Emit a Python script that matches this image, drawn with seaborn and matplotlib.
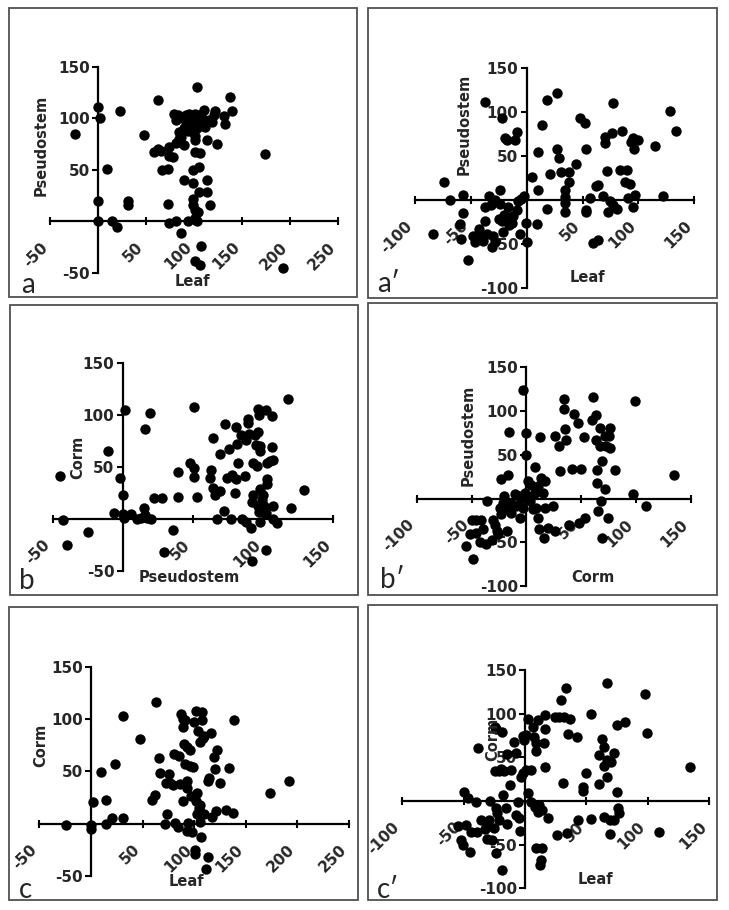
import matplotlib
matplotlib.use('Agg')
import matplotlib.pyplot as plt
from matplotlib.patches import Rectangle
from matplotlib.transforms import ScaledTranslation
import seaborn as sns

# --- panel a : Leaf vs Pseudostem ---
a_leaf = [0, 2.4, -23.6, 23, 9.4, 0, 0, 15, 20, 31,
          31, 48, 62.5, 58, 62.5, 66, 67, 73, 74, 74,
          78, 72.6, 73.6, 80.6, 86.5, 79, 81, 81, 84.7, 84.7,
          89, 89, 83, 87.5, 91, 92.7, 92.7, 95, 97, 100,
          98.6, 98.6, 94, 98.6, 98.6, 100.7, 100.7, 101.4, 103, 101.4,
          105, 106.6, 101.4, 103, 101.4, 104, 105, 107.6, 101.4, 106.6,
          110, 111, 108, 113.5, 113.5, 113.5, 116, 118.8, 120.5, 122,
          124, 131, 132.6, 137, 139.6, 173.6, 192.7, 91, 94, 97,
          94, 89, 105, 106, 103, 115, 86]
a_pseudostem = [111, 100, 85, 107, 51, 20, 0, 0, -6, 20,
                16, 84, 118, 67, 70, 68, 50, 51, 72, 63,
                62, 17, -2, 0, -11, 104, 98, 76, 80, 87,
                74, 40, 103, 100, 103, 96, 90, 104, 98, 95,
                37, 50, 0, 22, 16, 104, 83, 79, 130, 67,
                53, 66, 11, 0, 3, 9, 28, -24, -39, -43,
                108, 91, 100, 79, 40, 28, 16, 96, 103, 107,
                75, 102, 94, 121, 107, 65, -45, 98, 93, 88,
                88, 90, 103, 95, 90, 98, 82]

# --- panel a' ---
a2_leaf = [-74, -68.7, -83.6, -56.7, -56.7, -60, -59, -53, -48, -46,
           -43, -40, -39, -36, -34, -37, -37, -37, -30, -31,
           -32, -28, -24, -24, -22, -21, -19, -18, -20, -16.4,
           -16, -13.4, -12, -10.4, -9, -9, -7.5, -5, -6, -2,
           -1, 0.6, 4.5, 9, 10, 10.4, 13.4, 18, 18, 21,
           27, 27, 29, 31, 34, 34, 34, 34, 38, 38,
           44, 48, 52, 53.5, 53, 53.5, 56.7, 59, 64, 62,
           64, 68, 70, 70, 72, 74.6, 73, 76.7, 77, 77.6,
           80.6, 83.6, 85.7, 88, 90, 90.4, 92.5, 93, 95, 96.4,
           97, 95, 99.4, 115, 122, 128, 134, -22, -25, -16,
           -28]
a2_pseudostem = [21, 0, -39, 6, -15, -27, -45, -69, -41, -48,
                 -33, -41, -47, -39, 5, 112, -8, -24, -41, -54,
                 -6, 0, 11, -5, -24, -36, 71, 68, -17, -8,
                 -20, -26, -18, 68, 77, -12, -1, 1, -39, 5,
                 -26, -48, 26, -27, 11, 55, 85, 114, -10, 30,
                 122, 58, 48, 32, 3, -3, -14, 11, 20, 32,
                 41, 93, 88, 58, -11, -14, 2, -49, -46, 16,
                 17, 5, 72, 65, 33, -1, -14, 76, 111, -6,
                 -10, 34, 79, 20, 34, 2, 18, 66, 71, 58,
                 6, -8, 68, 61, 4, 101, 79, 93, -22, -29,
                 -48]

# --- panel b : Pseudostem vs Corm ---
b_pseudostem = [-44.5, -43, -40, -25, -10.5, -6, -2, 0, 1.4, 0,
                0.7, 5.5, 10, 12.6, 15, 15.7, 15.7, 17.4, 19, 20,
                22, 28, 29, 36, 39, 39, 48, 50.7, 51, 51,
                53, 63, 62, 64, 64, 66, 67, 69.5, 69, 72,
                73, 74.5, 76, 77, 78, 80, 80.5, 81.7, 81, 82.4,
                84.5, 85, 87, 87.6, 88, 89, 89, 90, 91, 92,
                91.7, 93, 93, 94, 95, 95.7, 96, 96.4, 97, 97.6,
                98, 98, 96, 97, 99, 99.5, 98, 100, 100.7, 102,
                102, 102.6, 103, 103, 102, 105, 106, 106, 106.7, 106.7,
                107, 110, 118, 120, 129]
b_corm = [41, -1, -25, -13, 65, 6, 39, 23, 105, 5,
          1, 5, 0, 1, 10, 87, 4, 1, 102, 0,
          20, 20, -32, -11, 21, 45, 54, 49, 40, 108,
          21, 47, 39, 78, 30, 23, 0, 27, 63, 8,
          91, 39, 67, 0, 42, 25, 38, 72, 89, 54,
          81, 0, 41, -3, 76, 96, 92, 82, -9, -41,
          16, 23, 54, 81, 71, 51, 84, 106, 100, 70,
          65, 29, 12, 7, 18, 14, -3, 23, 12, 105,
          -30, 38, 34, 54, 6, 56, 99, 69, 12, 0,
          57, -4, 116, 10, 28]

# --- panel b' ---
b2_corm = [-3, -16, 0, 0, -23.4, -17, 7.6, 12.8, -35.6, -50,
           -45.6, -41, -39.5, -51, -45.6, -42.5, -55, -49, -36.5, -31,
           -30, -29, -27, -26, -24, -23, -21, -20, -18, -16,
           -14, -14, -10.6, -9, -7, -6, -4.6, -3, -1.5, 1.5,
           2, 3, 4.6, 6, 7.6, 9, 10.6, 10.6, 12, 13.7,
           15, 16, 16.7, 16.7, 19.8, 24, 26, 26, 30, 31,
           34, 34, 35, 36.5, 39, 41.6, 43.5, 47, 47.7, 49.5,
           53, 54, 60, 61, 64, 64, 64.4, 64.4, 65, 67,
           67, 68.4, 69, 69, 71.4, 72, 73, 74.5, 76, 76,
           75.4, 81, 97, 99.4, 109, 134.6]
b2_pseudostem = [124, 76, 75, 50, 22, 27, 36, 70, -3, -24,
                 -24, -24, -35, -41, -39, -50, -54, -69, -52, -47,
                 -24, -30, -37, -41, -11, -18, -5, 3, -37, -12,
                 -5, -16, 5, -9, 3, -22, -1, -11, 6, 3,
                 20, -3, 16, -12, 6, -11, -22, 14, -35, 24,
                 6, -45, 20, -11, -34, -9, 72, -37, 60, 31,
                 114, 102, 79, 67, -30, 34, 97, 86, -28, 34,
                 70, -22, 90, 116, 95, 67, 33, 18, -14, 81,
                 60, -3, 43, -45, 72, 11, 60, -22, 81, 58,
                 71, 33, 5, 112, -8, 27]

# --- panel c : Leaf vs Corm ---
c_leaf = [-24, 0, 0, 2.3, 9.4, 15, 15, 20, 23, 30.6,
          30.6, 48, 59, 62, 62.6, 66, 67.4, 71.6, 72.6, 74,
          75.5, 76.5, 80.6, 79.7, 81, 84.5, 85, 86, 87.7, 89,
          89, 89, 90, 91, 91, 92.6, 92.6, 94, 92.6, 93.5,
          95.8, 95.8, 96.8, 98, 99, 99.7, 100.6, 101, 102, 102,
          103, 103, 104, 104.5, 105.5, 105.5, 106, 107, 107.7, 108,
          109, 110, 110, 111, 113, 113, 114, 116, 117, 119,
          120.6, 121, 122.6, 125, 131, 133.5, 137.7, 139, 173, 192]
c_corm = [-1, -1, -5, 20.6, 49, 22.5, 0, 5.5, 57, 103,
          5.5, 81, 23, 27, 116, 63, 48, 0, 39, 9,
          47, 39, 67, 37, 1, -3, 65, 38, 105, 100,
          92, 21.5, 76, 57, 99, 41, 34, 1, -7, 73,
          70, 55, 26, -8, 54, 97, -25, -29, 108, 21.5,
          9, 29, 89, 15, 18, 78, 2, -13, 107, 99,
          82, 83.5, 9, -43, -32, 41, 44, 87, 6, 64,
          52, 12.5, 70, 39, 13.5, 53, 10, 99, 29.6, 41]

# --- panel c' ---
c2_leaf = [-50, -55, -52.4, -50.5, -48, -46.5, -45, -44, -40, -39,
           -38, -36, -33, -31, -30, -29, -28.5, -26.6, -25, -24,
           -24.7, -24, -24.7, -24, -22.5, -21, -21, -20, -18.5, -18.5,
           -17.7, -17, -15.8, -15, -15, -12, -11.7, -9, -7.6, -7.6,
           -5.7, -5, -4.3, -3.5, -2, -1.4, -0.8, 0.5, 0.5, 2.4,
           2.7, 4.6, 4.6, 6.8, 7.3, 8, 8.7, 9.2, 8.7, 10.6,
           10.6, 11.4, 12, 12.8, 14, 14, 15.5, 16, 16, 16,
           19, 24, 26, 27.7, 29.6, 31, 31.8, 33.7, 34, 35,
           36.7, 42, 42.7, 47, 47.5, 49.5, 53.5, 54, 60, 60,
           63, 64, 64.4, 64.4, 66.6, 67, 67, 69, 69, 70,
           72, 72, 75, 75, 75.8, 76.6, 81.5, 97.6, 99, 109,
           134.5]
c2_corm = [10, -29, -45, -50, -27, 3, -58, -35, -1, -35,
           61, -22, -32, -43, -29, -22, 0, -45, -31, -8,
           85, 83, 34, -60, -14, 34, -22, 37, 79, -79,
           7, 34, -8, -26, 54, 18, 35.5, 68, 55, -16,
           -1, -20, -34, 28, 32, 74, 70, 35, 76, 9.5,
           94, 35.5, -1, 85, 73, -6.5, 66, 57, -54, 93,
           -13, -4.6, -73, -67.5, -54, -10, 66, 98.5, 82, 39,
           -20, 96, -39, 96, 116, 21, 96.5, 129, -37, 77,
           94, 73, -22, 12, 15.6, 32.4, 100, -20.6, 20, 53,
           70.6, 62, 40, -18, 135.5, 47, 28, -22, -38, 45,
           54.6, -22, 10.7, 87, -8.4, -14, 91, 122.5, 77.5, -36,
           38.5]

ticks_wide = [-50, 50, 100, 150, 200, 250]
ticks_short = [-50, 50, 100, 150]
ticks_sym = [-100, -50, 50, 100, 150]
yticks_pos = [-50, 50, 100, 150]

sns.set_style('white')
plt.rcParams['font.family'] = ['DejaVu Sans']

W, H = 729, 910
fig = plt.figure(figsize=(W / 100, H / 100), dpi=100)


def px_axes(left, top, right, bottom):
    # axes placed in pixel coords measured from the top-left corner
    return fig.add_axes([left / W, 1 - bottom / H, (right - left) / W, (bottom - top) / H])


def px_text(x, y, s, **kw):
    fig.text(x / W, 1 - y / H, s, **kw)


def scatter_panel(ax, x, y, xlim, xticks, ylim, yticks):
    sns.scatterplot(x=x, y=y, ax=ax, color='black', s=56, linewidth=0,
                    zorder=3, clip_on=False)
    ax.set_xlim(*xlim)
    ax.set_ylim(*ylim)
    ax.set_xlabel('')
    ax.set_ylabel('')
    ax.patch.set_alpha(0)
    for side in ['top', 'right']:
        ax.spines[side].set_visible(False)
    for side in ['left', 'bottom']:
        ax.spines[side].set_position(('data', 0))
        ax.spines[side].set_linewidth(1.6)
        ax.spines[side].set_color('black')
    ax.set_xticks(xticks, labels=[str(t) for t in xticks], rotation=45,
                  ha='right', va='center', rotation_mode='anchor',
                  fontsize=11, fontweight='bold')
    ax.set_yticks(yticks, labels=[str(t) for t in yticks],
                  fontsize=11, fontweight='bold')
    ax.tick_params(axis='x', bottom=True, direction='inout', length=6,
                   width=1.5, pad=14, color='black')
    ax.tick_params(axis='y', left=True, direction='out', length=4,
                   width=1.5, pad=2, color='black')
    # the rotated labels sit a little left of their ticks
    shift = ScaledTranslation(-0.05, 0, fig.dpi_scale_trans)
    for lab in ax.get_xticklabels():
        lab.set_transform(lab.get_transform() + shift)


# panel frames
frames = [(9, 8, 357, 297), (368, 8, 717, 298),
          (10, 305, 358, 595), (368, 303, 717, 595),
          (9, 607, 358, 900), (368, 605, 717, 900)]
for x0, y0, x1, y1 in frames:
    fig.add_artist(Rectangle((x0 / W, 1 - y1 / H), (x1 - x0) / W, (y1 - y0) / H,
                             transform=fig.transFigure, fill=False,
                             edgecolor='#505050', linewidth=1.3))

ax = px_axes(50, 66.7, 338.3, 272.7)
scatter_panel(ax, a_leaf, a_pseudostem, (-50, 250), ticks_wide, (-50, 150), yticks_pos)
ax = px_axes(415, 68.3, 694.3, 287.7)
scatter_panel(ax, a2_leaf, a2_pseudostem, (-100, 150), ticks_sym, (-100, 150), ticks_sym)
ax = px_axes(52.7, 363.3, 333.3, 570.7)
scatter_panel(ax, b_pseudostem, b_corm, (-50, 150), ticks_short, (-50, 150), yticks_pos)
ax = px_axes(416.7, 367.3, 690.7, 586)
scatter_panel(ax, b2_corm, b2_pseudostem, (-100, 150), ticks_sym, (-100, 150), ticks_sym)
ax = px_axes(39.3, 666.7, 349, 876)
scatter_panel(ax, c_leaf, c_corm, (-50, 250), ticks_wide, (-50, 150), yticks_pos)
ax = px_axes(402.3, 670, 709.3, 888.3)
scatter_panel(ax, c2_leaf, c2_corm, (-100, 150), ticks_sym, (-100, 150), ticks_sym)

# axis titles
lab = dict(fontsize=10.5, fontweight='bold', ha='center', va='center')
px_text(41, 145, 'Pseudostem', rotation=90, **lab)
px_text(464, 124, 'Pseudostem', rotation=90, **lab)
px_text(78, 457, 'Corm', rotation=90, **lab)
px_text(468, 435, 'Pseudostem', rotation=90, **lab)
px_text(41, 745, 'Corm', rotation=90, **lab)
px_text(493, 739, 'Corm', rotation=90, **lab)
px_text(192, 282, 'Leaf', **lab)
px_text(587, 277, 'Leaf', **lab)
px_text(189, 578, 'Pseudostem', **lab)
px_text(593, 577, 'Corm', **lab)
px_text(186, 882, 'Leaf', **lab)
px_text(595, 880, 'Leaf', **lab)

# panel letters
let = dict(fontsize=20, family=['Lato', 'DejaVu Sans'], ha='center', va='baseline')
px_text(28, 293, 'a', **let)
px_text(389, 292, 'a\u2032', **let)
px_text(27, 589, 'b', **let)
px_text(392, 588, 'b\u2032', **let)
px_text(25, 898, 'c', **let)
px_text(388, 898, 'c\u2032', **let)

fig.savefig('out.png', dpi=100, facecolor='white')
